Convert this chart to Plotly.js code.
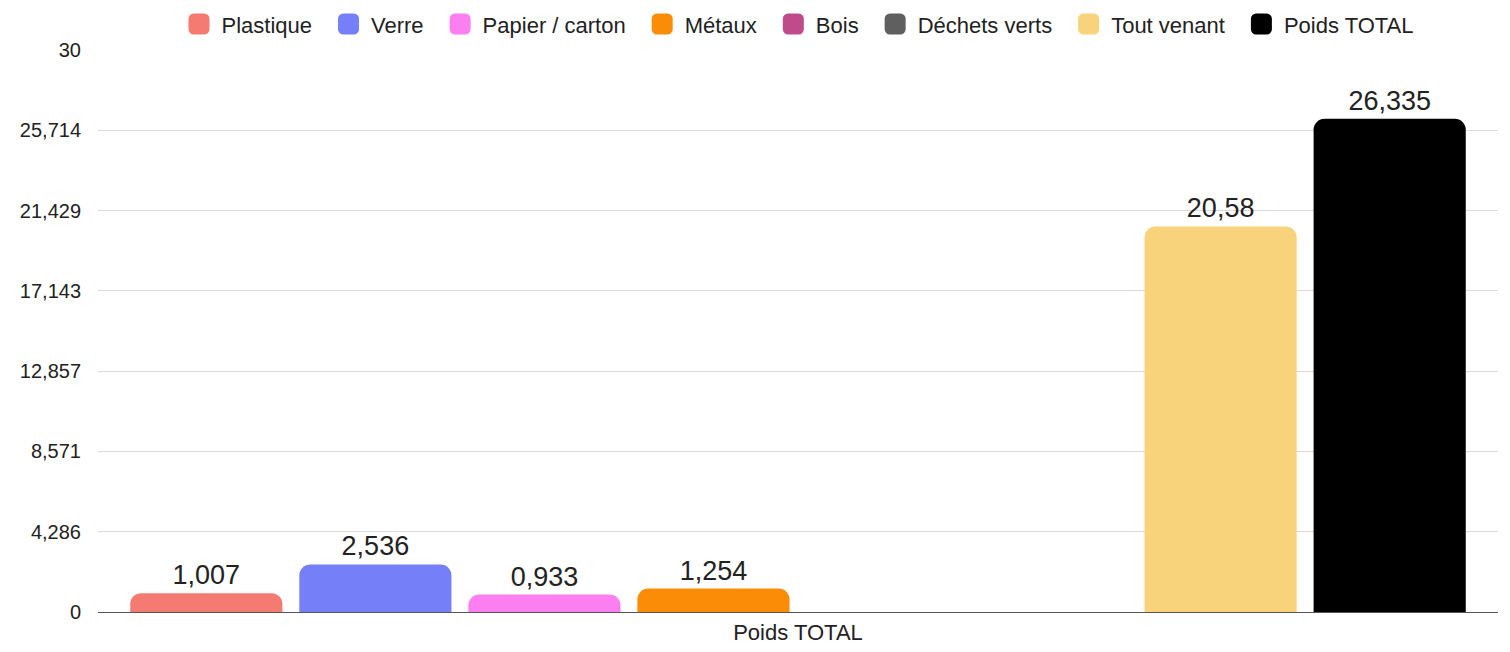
<!DOCTYPE html>
<html>
<head>
<meta charset="utf-8">
<script src="https://cdn.plot.ly/plotly-3.0.1.min.js"></script>
<style>html,body{margin:0;padding:0;background:#fff;}</style>
</head>
<body>
<div id="chart" style="width:1510px;height:652px;"></div>
<script>
const category = ["Poids TOTAL"];
const seriesNames = ["Plastique", "Verre", "Papier / carton", "Métaux", "Bois", "Déchets verts", "Tout venant", "Poids TOTAL"];
const seriesValues = [1.007, 2.536, 0.933, 1.254, null, null, 20.58, 26.335];
const seriesColors = ["#f47a72", "#757ff8", "#fb7ff0", "#fb8c08", "#bf4a8c", "#5f5f5f", "#f9d27c", "#000000"];
const yTickVals = [0, 4.286, 8.571, 12.857, 17.143, 21.429, 25.714, 30];
const yTickText = ["0", "4,286", "8,571", "12,857", "17,143", "21,429", "25,714", "30"];

const traces = seriesNames.map((name, i) => ({
  type: "bar",
  name: name,
  x: category,
  y: [seriesValues[i]],
  marker: { color: seriesColors[i], cornerradius: 11 },
  texttemplate: seriesValues[i] === null ? "" : "%{y}",
  textposition: "outside",
  textfont: { size: 27, color: "#222", family: "Liberation Sans, Arial, sans-serif" },
  cliponaxis: false,
  hoverinfo: "name+y"
}));

const layout = {
  width: 1510, height: 652,
  margin: { l: 98, r: 12, t: 50, b: 40, autoexpand: false },
  separators: ", ",
  barmode: "group",
  bargap: 0.034,
  bargroupgap: 0.1,
  font: { family: "Liberation Sans, Arial, sans-serif", size: 20, color: "#222" },
  paper_bgcolor: "#fff",
  plot_bgcolor: "#fff",
  showlegend: true,
  legend: {
    orientation: "h", x: 0.5, xanchor: "center", y: 1.046, yanchor: "middle",
    font: { size: 22, color: "#222" }, itemwidth: 35, traceorder: "normal",
    tracegroupgap: 0, bgcolor: "rgba(0,0,0,0)"
  },
  xaxis: {
    type: "category",
    showgrid: false, showline: false, ticks: "",
    ticklabelstandoff: 5,
    tickfont: { size: 22, color: "#222" }
  },
  yaxis: {
    range: [0, 30],
    tickmode: "array", tickvals: yTickVals, ticktext: yTickText,
    showgrid: true, gridcolor: "#d9d9d9", gridwidth: 1,
    zeroline: true, zerolinecolor: "#555", zerolinewidth: 1,
    showline: false, ticks: "", ticklen: 0,
    ticklabelstandoff: 16,
    tickfont: { size: 20, color: "#222" }
  }
};

Plotly.newPlot("chart", traces, layout, { displayModeBar: false, staticPlot: true }).then(gd => {
  gd.querySelectorAll(".legend, .legend .scrollbox").forEach(el => {
    el.removeAttribute("clip-path");
    el.style.clipPath = "none";
  });
  gd.querySelectorAll(".legendpoints path").forEach(p => {
    const t = p.getAttribute("transform") || "";
    p.setAttribute("transform", t + " scale(1.75)");
    p.style.strokeWidth = "0";
  });
  const items = gd.querySelectorAll(".legend .traces");
  const extra = 9;
  const shift0 = -extra * (items.length - 1) / 2;
  items.forEach((g, i) => {
    const t = g.getAttribute("transform") || "";
    const m = t.match(/translate\(\s*([-\d.]+)[ ,]+([-\d.]+)\s*\)/);
    if (m) {
      const x = parseFloat(m[1]) + shift0 + i * extra;
      g.setAttribute("transform", "translate(" + x + "," + m[2] + ")");
    }
  });
});
</script>
</body>
</html>
